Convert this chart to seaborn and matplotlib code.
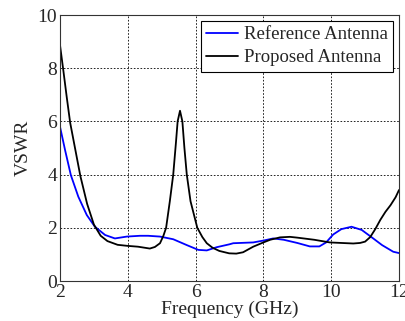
import matplotlib
matplotlib.use("Agg")
import matplotlib.pyplot as plt
import seaborn as sns
import pandas as pd

freq_prop = [2.0,2.1,2.2,2.3,2.45,2.6,2.8,3.0,3.2,3.4,3.7,4.0,4.3,4.65,4.8,4.95,5.05,5.13,5.24,5.34,5.42,5.47,5.54,5.61,5.67,5.74,5.85,6.05,6.2,6.33,6.5,6.7,6.99,7.2,7.4,7.7,8.0,8.2,8.49,8.78,9.0,9.5,9.96,10.3,10.65,10.85,11.0,11.15,11.3,11.45,11.6,11.75,11.9,12.0]
vswr_prop = [8.87,7.9,6.9,5.95,4.95,3.95,2.9,2.12,1.7,1.5,1.36,1.32,1.29,1.22,1.28,1.42,1.7,2.0,3.0,4.0,5.2,6.0,6.4,6.0,5.0,4.0,3.0,2.0,1.65,1.42,1.25,1.13,1.04,1.03,1.08,1.29,1.45,1.55,1.64,1.66,1.63,1.55,1.45,1.43,1.41,1.43,1.48,1.65,1.95,2.3,2.6,2.85,3.15,3.42]

freq_ref = [2.0,2.15,2.32,2.54,2.79,3.03,3.33,3.62,3.97,4.36,4.6,4.95,5.34,5.74,6.08,6.33,6.62,7.0,7.11,7.7,8.0,8.29,8.6,9.0,9.37,9.65,9.85,10.06,10.3,10.6,10.9,11.24,11.5,11.83,12.0]
vswr_ref = [5.8,4.92,3.98,3.17,2.48,2.04,1.73,1.6,1.67,1.7,1.7,1.67,1.57,1.35,1.17,1.15,1.27,1.38,1.42,1.45,1.52,1.6,1.55,1.43,1.3,1.3,1.45,1.75,1.95,2.04,1.92,1.6,1.35,1.1,1.05]

series = ["Reference Antenna", "Proposed Antenna"]
colors = ["#0000ff", "#000000"]

df = pd.concat([
    pd.DataFrame({"f": freq_ref, "v": vswr_ref, "s": series[0]}),
    pd.DataFrame({"f": freq_prop, "v": vswr_prop, "s": series[1]}),
])

sns.set_style("white")
plt.rcParams['font.family'] = ['Liberation Serif', 'DejaVu Serif']

fig = plt.figure(figsize=(4.06, 3.21), dpi=100)
ax = fig.add_axes([60/406, 1-281/321, 339/406, 266/321])
sns.lineplot(data=df, x="f", y="v", hue="s", palette=dict(zip(series, colors)),
             sort=False, estimator=None, linewidth=1.3, ax=ax)
ax.set_xlim(2, 12)
ax.set_ylim(0, 10)
ax.set_xticks([2,4,6,8,10,12])
ax.set_yticks([0,2,4,6,8,10])
ax.grid(True, color='black', linestyle=(0,(2,2)), linewidth=0.6)
ax.tick_params(direction='in', labelsize=14, length=4, color='black', pad=2)
for sp in ax.spines.values():
    sp.set_color('#333333')
    sp.set_linewidth(0.8)
ax.set_xlabel("Frequency (GHz)", fontsize=14, labelpad=0)
ax.set_ylabel("VSWR", fontsize=14, labelpad=4)
leg = ax.legend(loc='upper right', fontsize=13.5, frameon=True, fancybox=False,
                edgecolor='black', framealpha=1, borderaxespad=0.3,
                handlelength=1.7, handletextpad=0.3, borderpad=0.3, labelspacing=0.3)
leg.get_frame().set_linewidth(0.8)
fig.savefig("out.png", dpi=100)
